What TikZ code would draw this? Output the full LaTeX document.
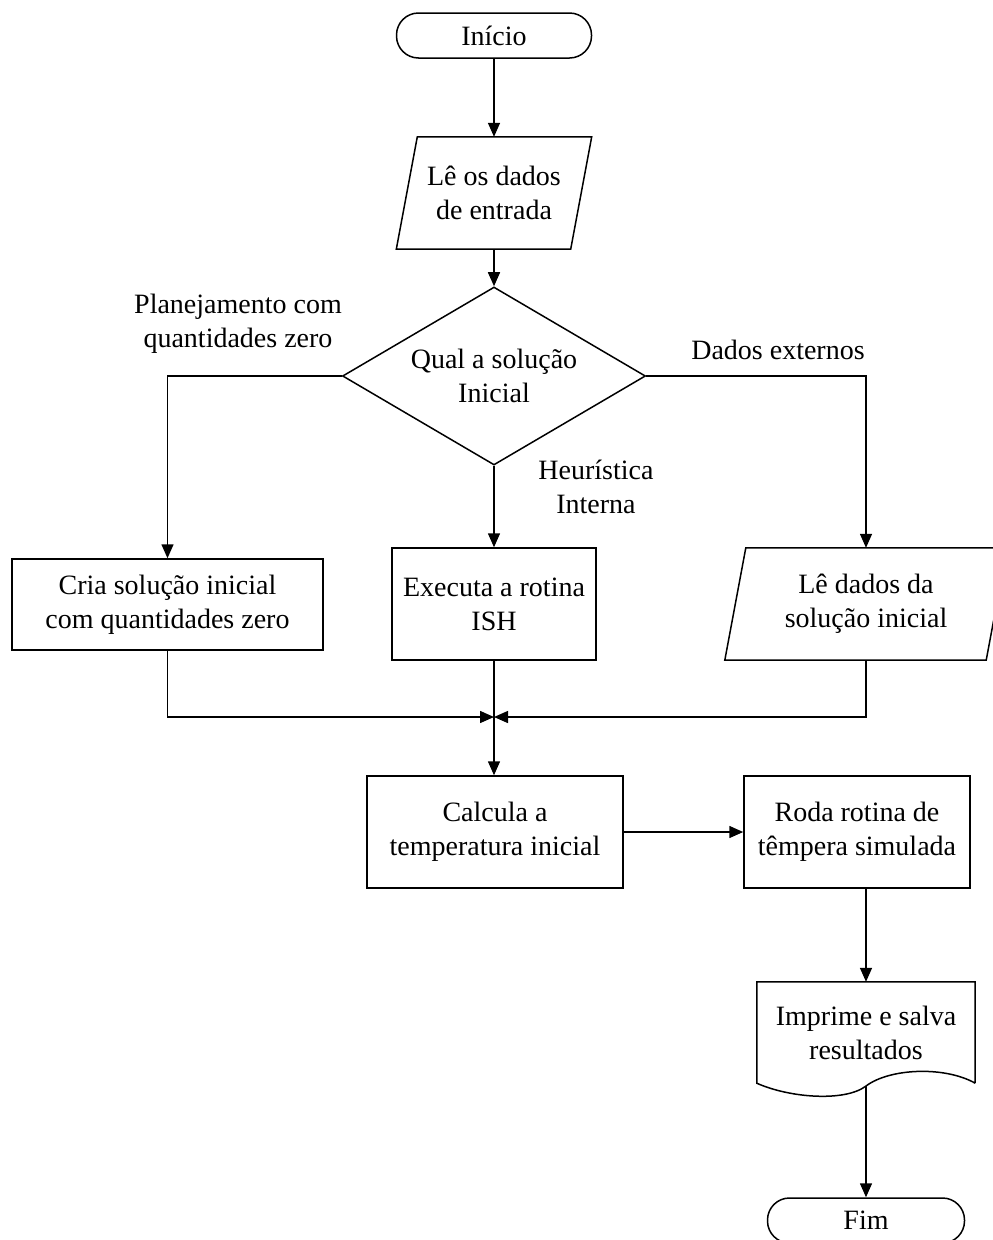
\documentclass[tikz,border=0pt]{standalone}
\usepackage{fontspec}
\setmainfont{Liberation Serif}
\usepackage{tikz}
\usetikzlibrary{shapes.geometric,arrows.meta}

\tikzset{
  base/.style={draw, line width=1.5pt, align=center, inner sep=0pt,
    font=\fontsize{28}{34}\selectfont},
  term/.style={base, rounded corners=22pt, minimum width=195pt, minimum height=45pt},
  proc/.style={base, rectangle, minimum height=112pt},
  io/.style={lbl, minimum height=112pt},
  decide/.style={base, diamond, aspect=1.7, minimum width=303pt, minimum height=178pt},
  lbl/.style={align=center, inner sep=0pt, font=\fontsize{28}{34}\selectfont},
  arr/.style={line width=1.5pt, -{Triangle[length=14pt,width=12pt]}}
}
% slanted frame round an io node
\newcommand{\ioframe}[1]{%
  \draw[line width=1.5pt] ([xshift=-10.5pt]#1.south west) -- ([xshift=10.5pt]#1.north west)
    -- ([xshift=10.5pt]#1.north east) -- ([xshift=-10.5pt]#1.south east) -- cycle;}

\begin{document}
\begin{tikzpicture}[x=1pt,y=1pt,yscale=-1]
\useasboundingbox (0,0) rectangle (993,1240);

% Nodes
\node[term] (start) at (494,35.5) {Início};
\node[io, minimum width=174pt] (read) at (494,193) {Lê os dados\\de entrada};
\ioframe{read}
\node[decide] (dec) at (494,376) {Qual a solução\\Inicial};
\node[proc, minimum width=311pt, minimum height=91pt] (zero) at (167.5,604.5) {Cria solução inicial\\com quantidades zero};
\node[proc, minimum width=204pt] (ish) at (494,604) {Executa a rotina\\ISH};
\node[io, minimum width=261pt] (rdini) at (866,604) {Lê dados da\\solução inicial};
\ioframe{rdini}
\coordinate (merge) at (494,717);
\node[proc, minimum width=256pt] (calc) at (495,832) {Calcula a\\temperatura inicial};
\node[proc, minimum width=226pt] (roda) at (857,832) {Roda rotina de\\têmpera simulada};
\node[lbl, minimum width=218pt, minimum height=101pt] (doc) at (866,1032.5) {Imprime e salva\\resultados};
\coordinate (docout) at (866,1086);
\node[term, minimum width=197pt] (fim) at (866,1220.5) {Fim};

% Document outline
\draw[line width=1.5pt] (doc.south east) -- (doc.north east) -- (doc.north west) -- (doc.south west)
  .. controls (790,1098) and (845,1102) .. (docout)
  .. controls (890,1068) and (945,1066) .. (doc.south east);

% Text Node
\node[lbl] (lzero) at (238,324) {Planejamento com\\quantidades zero};
% Text Node
\node[lbl] (lext) at (778,350) {Dados externos};
% Text Node
\node[lbl] (lheur) at (596,487) {Heurística\\Interna};

% Connectors
\draw[arr] (start) -- (read);
\draw[arr] (read) -- (dec);
\draw[arr] (dec.west) -| (zero.north);
\draw[arr] (dec.south) -- (ish.north);
\draw[arr] (dec.east) -| (rdini.north);
\draw[arr] (zero.south) |- (merge);
\draw[arr] (rdini.south) |- (merge);
\draw[arr] (ish.south) -- (calc.north -| ish.south);
\draw[arr] (calc) -- (roda);
\draw[arr] (doc.north |- roda.south) -- (doc.north);
\draw[arr] (docout) -- (fim.north);

\end{tikzpicture}
\end{document}
